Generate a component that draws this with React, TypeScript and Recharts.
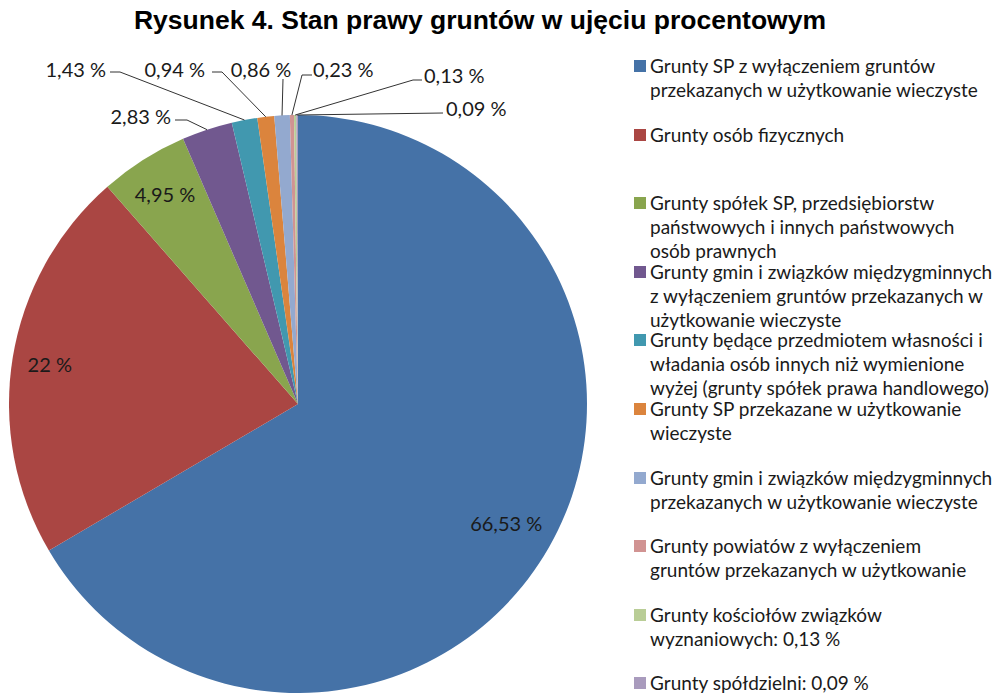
import { PieChart, Pie, Cell, Legend } from 'recharts';

const categories = [
  'Grunty SP z wyłączeniem gruntów\nprzekazanych w użytkowanie wieczyste',
  'Grunty osób fizycznych',
  'Grunty spółek SP, przedsiębiorstw\npaństwowych i innych państwowych\nosób prawnych',
  'Grunty gmin i związków międzygminnych\nz wyłączeniem gruntów przekazanych w\nużytkowanie wieczyste',
  'Grunty będące przedmiotem własności i\nwładania osób innych niż wymienione\nwyżej (grunty spółek prawa handlowego)',
  'Grunty SP przekazane w użytkowanie\nwieczyste',
  'Grunty gmin i związków międzygminnych\nprzekazanych w użytkowanie wieczyste',
  'Grunty powiatów z wyłączeniem\ngruntów przekazanych w użytkowanie',
  'Grunty kościołów związków\nwyznaniowych: 0,13 %',
  'Grunty spółdzielni: 0,09 %',
];

const shares = [66.53, 22, 4.95, 2.83, 1.43, 0.94, 0.86, 0.23, 0.13, 0.09];

const colors = [
  '#4572A7', '#AA4643', '#89A54E', '#71588F', '#4198AF',
  '#DB843D', '#93A9CF', '#D19392', '#B9CD96', '#A99BBD',
];

const data = categories.map((name, i) => ({ name, value: shares[i] }));

const FONT = 'Lato, "Open Sans", sans-serif';
const LABEL_SIZE = 20;

// label placement relative to the pie centre (inside labels use a radius factor)
type LabelSpot =
  | { r: number }
  | { tx: number; ty: number; anchor: 'start' | 'middle' | 'end'; path: number[][] };

const labelSpots: LabelSpot[] = [
  { r: 0.83 },
  { r: 0.87 },
  { r: 0.86 },
  { tx: -127, ty: -288, anchor: 'end', path: [[-111, -284], [-123, -284]] },
  { tx: -192, ty: -335, anchor: 'end', path: [[-178, -332], [-188, -332]] },
  { tx: -93, ty: -335, anchor: 'end', path: [[-76, -332], [-86, -332]] },
  { tx: -37, ty: -335, anchor: 'middle', path: [[-15, -325]] },
  { tx: 15, ty: -335, anchor: 'start', path: [[4, -329], [14, -329]] },
  { tx: 126, ty: -329, anchor: 'start', path: [[115, -324], [124, -324]] },
  { tx: 148, ty: -296, anchor: 'start', path: [[145, -291]] },
];

const fmt = (v: number) => `${String(v).replace('.', ',')} %`;

const RAD = Math.PI / 180;

const renderLabel = (props: any) => {
  const { cx, cy, midAngle, outerRadius, index } = props;
  const spot = labelSpots[index];
  const text = fmt(shares[index]);
  if ('r' in spot) {
    const r = outerRadius * spot.r;
    const x = cx + r * Math.cos(-midAngle * RAD);
    const y = cy + r * Math.sin(-midAngle * RAD);
    return (
      <text x={x} y={y} textAnchor="middle" dominantBaseline="central"
        fontFamily={FONT} fontSize={LABEL_SIZE} fill="#1a1a1a">
        {text}
      </text>
    );
  }
  const ex = cx + outerRadius * Math.cos(-midAngle * RAD);
  const ey = cy + outerRadius * Math.sin(-midAngle * RAD);
  const pts = [[ex, ey], ...spot.path.map(([px, py]) => [cx + px, cy + py])];
  return (
    <g>
      <polyline points={pts.map((p) => p.join(',')).join(' ')} fill="none" stroke="#333" strokeWidth={1} />
      <text x={cx + spot.tx} y={cy + spot.ty} textAnchor={spot.anchor} dominantBaseline="central"
        fontFamily={FONT} fontSize={LABEL_SIZE} fill="#1a1a1a">
        {text}
      </text>
    </g>
  );
};

const renderLegend = () => (
  <div style={{ position: 'relative', width: 364, height: 695 }}>
    {categories.map((c, i) => (
      <div key={c} style={{ position: 'absolute', left: 0, top: 54 + i * 68.6, display: 'flex', alignItems: 'flex-start' }}>
        <span style={{ width: 12, height: 12, marginTop: 6, background: colors[i], flex: 'none' }} />
        <span style={{ marginLeft: 4, whiteSpace: 'pre', fontFamily: FONT, fontSize: 19, lineHeight: '24px', color: '#1a1a1a' }}>
          {c}
        </span>
      </div>
    ))}
  </div>
);

export default function App() {
  return (
    <div style={{ position: 'absolute', left: 0, top: 0, width: 998, height: 695, background: '#fff', overflow: 'hidden' }}>
      <div style={{ position: 'absolute', left: 0, top: 5, width: 960, textAlign: 'center', fontFamily: '"Liberation Sans", Arial, sans-serif', fontWeight: 'bold', fontSize: 26.5, color: '#000' }}>
        Rysunek 4. Stan prawy gruntów w ujęciu procentowym
      </div>
      <PieChart width={998} height={695} margin={{ top: 0, right: 0, bottom: 0, left: 0 }}>
        <Pie
          data={data}
          dataKey="value"
          nameKey="name"
          cx={298}
          cy={404}
          outerRadius={289}
          startAngle={90}
          endAngle={-270}
          stroke="none"
          labelLine={false}
          label={renderLabel}
          isAnimationActive={false}
        >
          {data.map((d, i) => (
            <Cell key={d.name} fill={colors[i]} />
          ))}
        </Pie>
        <Legend content={renderLegend} wrapperStyle={{ left: 634, top: 0, width: 364, bottom: 'auto' }} />
      </PieChart>
    </div>
  );
}
